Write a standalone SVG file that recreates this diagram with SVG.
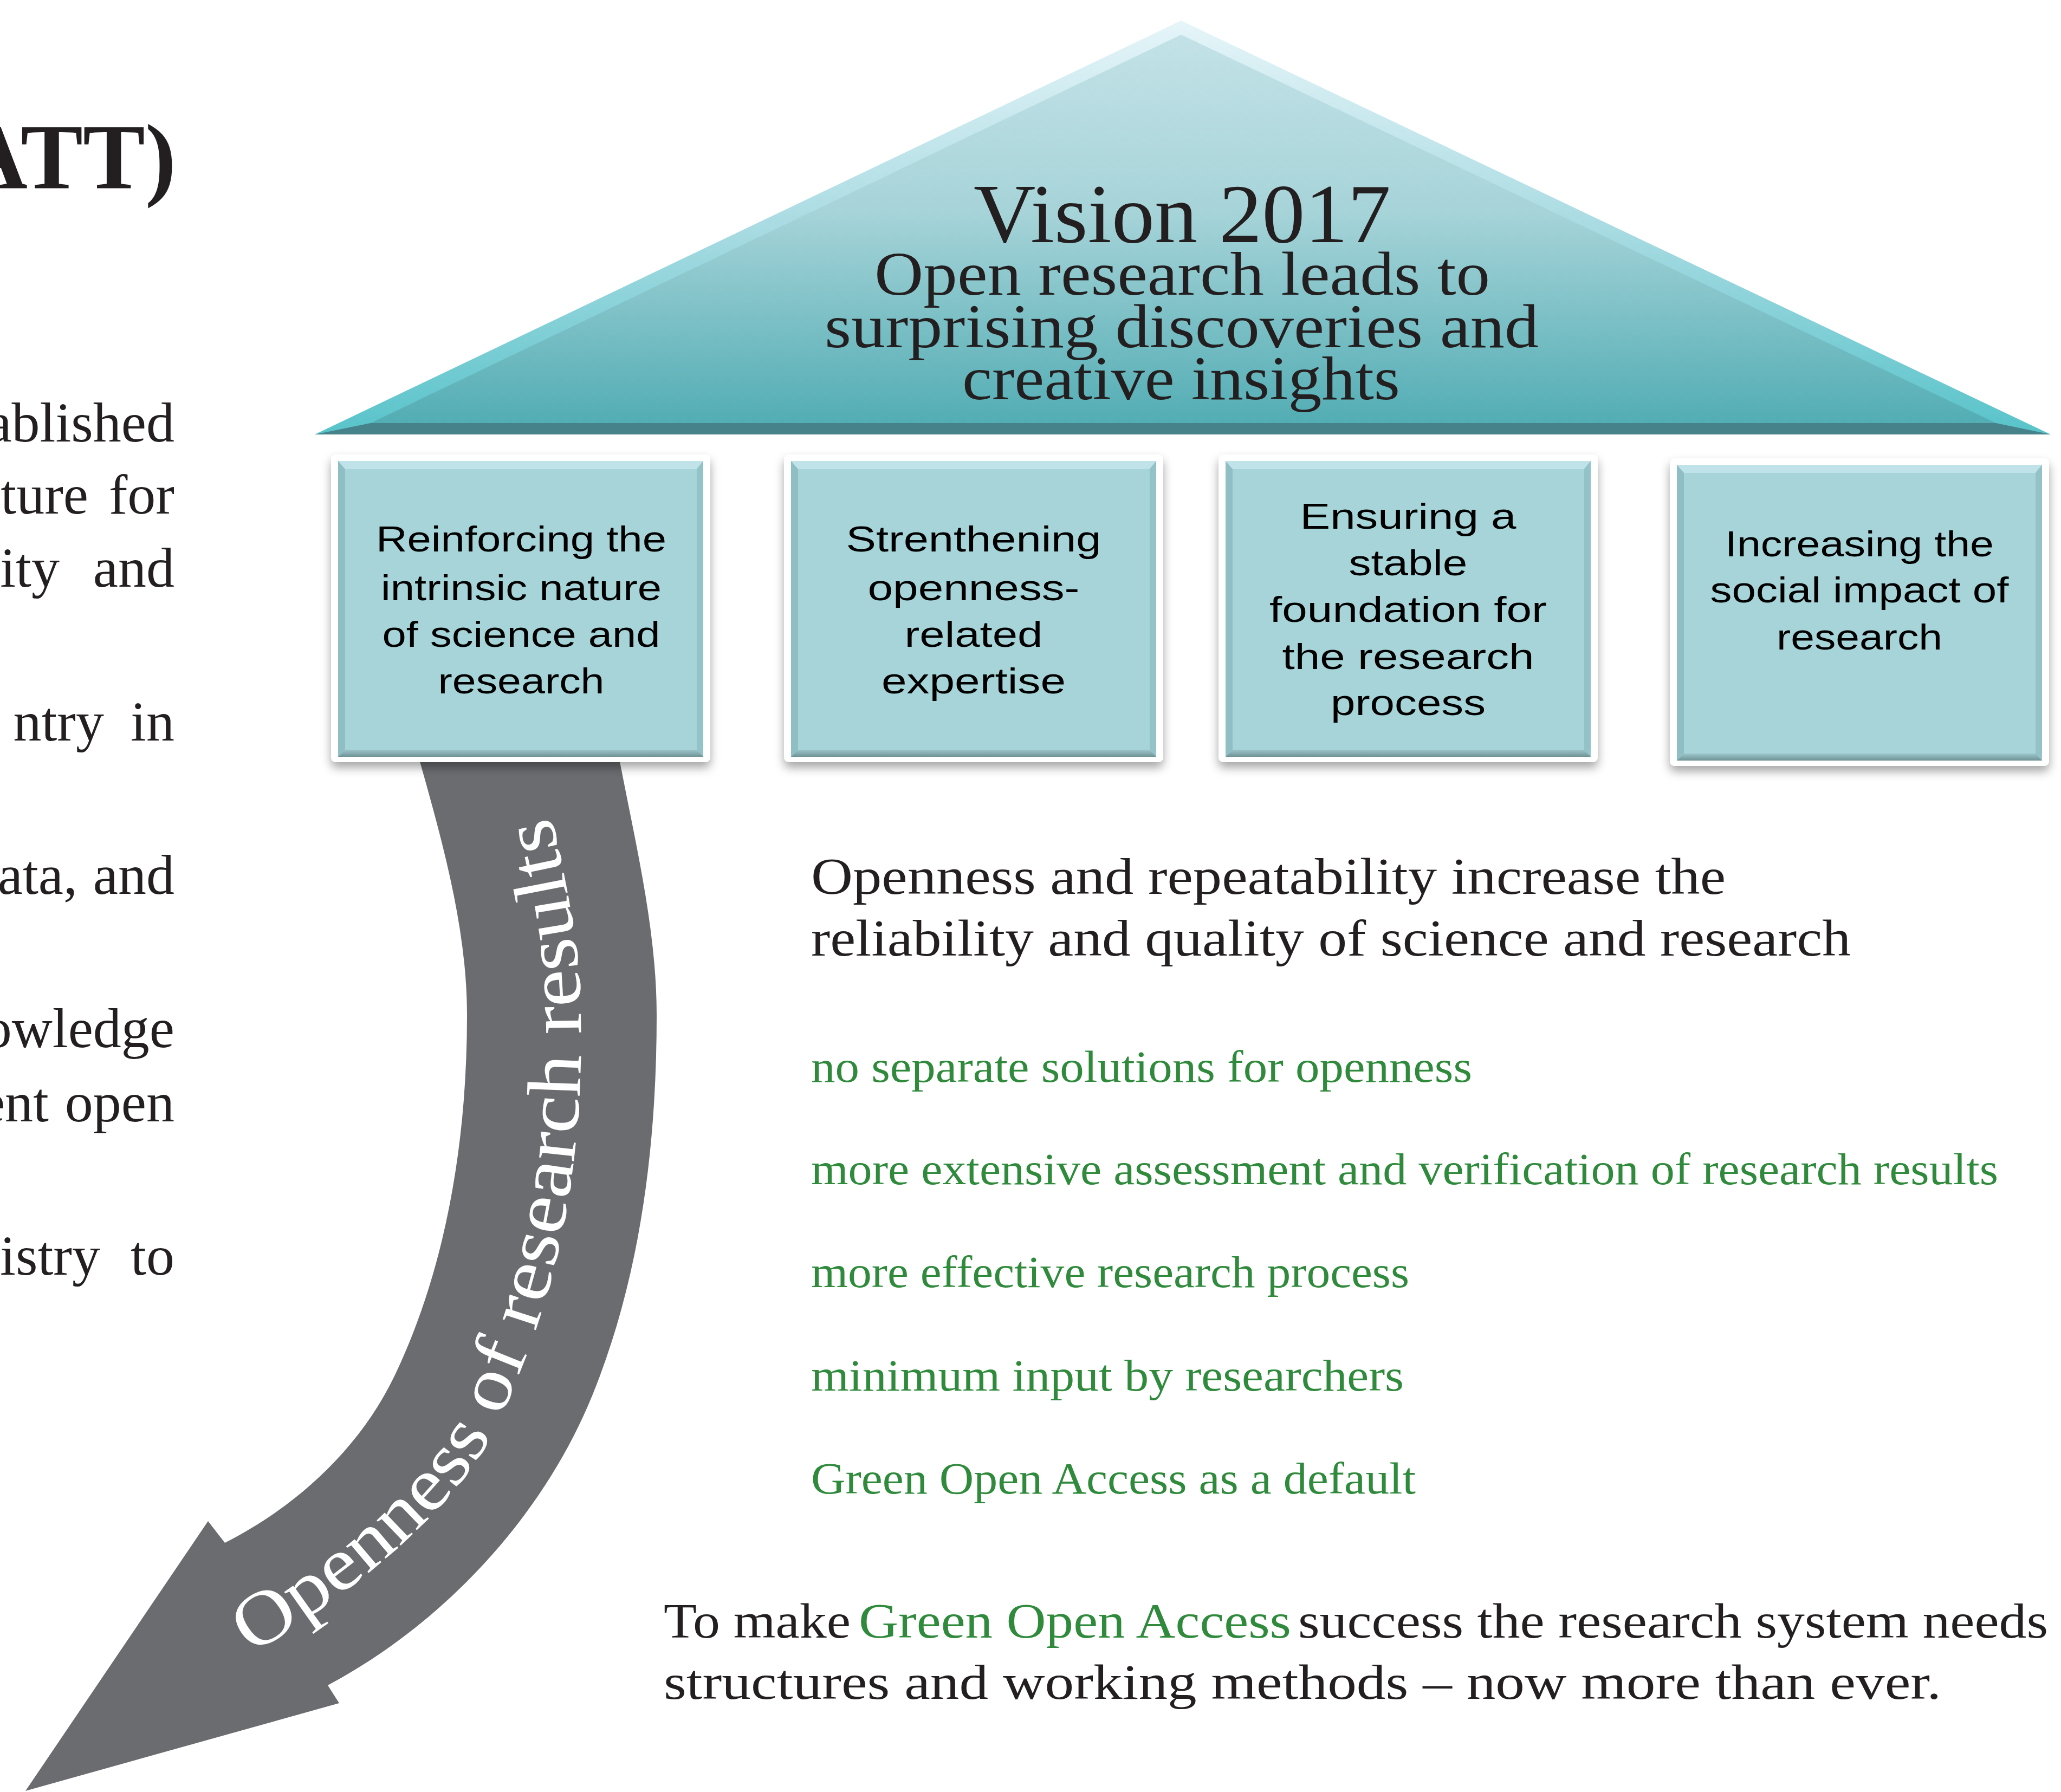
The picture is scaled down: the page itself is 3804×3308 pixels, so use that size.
<svg xmlns="http://www.w3.org/2000/svg" width="3804" height="3308" viewBox="0 0 3804 3308">
<style>
.serif{font-family:"Liberation Serif","Times New Roman",serif;}
.sans{font-family:"Liberation Sans",Arial,sans-serif;}
.bt{font-size:67px;text-anchor:middle;fill:#000;}
.tri{font-size:115px;text-anchor:middle;fill:#231f20;}
.left{font-size:104px;text-anchor:end;fill:#231f20;}
.body{font-size:96px;fill:#231f20;}
.green{font-size:82px;fill:#2f8a3c;}
.bottom{font-size:92px;fill:#231f20;}
.arrowtxt{font-size:140px;fill:#ffffff;}
</style>
<defs>
<linearGradient id="triOuter" x1="0" y1="38" x2="0" y2="802" gradientUnits="userSpaceOnUse">
<stop offset="0" stop-color="#e6f5f9"/>
<stop offset="0.5" stop-color="#a9dbe2"/>
<stop offset="1" stop-color="#58c3ca"/>
</linearGradient>
<linearGradient id="triInner" x1="0" y1="62" x2="0" y2="781" gradientUnits="userSpaceOnUse">
<stop offset="0" stop-color="#c3e2e7"/>
<stop offset="0.45" stop-color="#a7d4d9"/>
<stop offset="1" stop-color="#53adb4"/>
</linearGradient>
<linearGradient id="botBevel" x1="0" y1="0" x2="0" y2="1">
<stop offset="0" stop-color="#9cc6ca"/>
<stop offset="1" stop-color="#6f9397"/>
</linearGradient>
<filter id="shadow" x="-10%" y="-10%" width="120%" height="125%">
<feDropShadow dx="0" dy="10" stdDeviation="9" flood-color="#000" flood-opacity="0.35"/>
</filter>
<g id="boxshape">
<rect x="0" y="0" width="700" height="568" rx="9" fill="#ffffff" filter="url(#shadow)"/>
<rect x="13" y="12" width="674" height="546" fill="#a6d4d8"/>
<polygon points="13,12 687,12 674,27 26,27" fill="#bfe3e9"/>
<polygon points="13,12 26,27 26,545 13,558" fill="#8fbfc4"/>
<polygon points="687,12 687,558 675,545 675,27" fill="#93c3c8"/>
<polygon points="13,558 26,545 675,545 687,558" fill="url(#botBevel)"/>
</g>
</defs>
<rect x="0" y="0" width="3804" height="3308" fill="#ffffff"/>

<g id="left-text" class="serif">
<text x="325" y="348" style="font-size:172px;font-weight:bold;text-anchor:end;fill:#231f20">ATT)</text>
<text class="left" x="322" y="815">ablished</text>
<text class="left" x="163" y="948">ture</text>
<text class="left" x="322" y="948">for</text>
<text class="left" x="110" y="1083">lity</text>
<text class="left" x="322" y="1083">and</text>
<text class="left" x="192" y="1367">ntry</text>
<text class="left" x="322" y="1367">in</text>
<text class="left" x="143" y="1650">ata,</text>
<text class="left" x="322" y="1650">and</text>
<text class="left" x="322" y="1933">owledge</text>
<text class="left" x="90" y="2070">ent</text>
<text class="left" x="322" y="2070">open</text>
<text class="left" x="185" y="2353">istry</text>
<text class="left" x="322" y="2353">to</text>
</g>

<g id="connectors">
<path id="openness-arrow" d="M768,1380 L775,1406 C819,1562 862,1718 862,1874 C862,2099 826,2333 730,2536 C666,2672 549,2780 415,2848 L384,2808 L47,3306 L626,3144 L605,3111 C819,2997 1003,2799 1094,2574 C1183,2354 1212,2111 1212,1874 C1212,1718 1174,1562 1144,1406 L1139,1380 Z" fill="#6b6c70"/>
<path id="arrowBase" d="M456,3060 C680,2920 880,2760 944,2569 C1041,2354 1077,2110 1072,1874 C1072,1709 1023,1542 990,1380" fill="none"/>
<text class="serif arrowtxt"><textPath href="#arrowBase" startOffset="10" textLength="1780" lengthAdjust="spacingAndGlyphs">Openness of research results</textPath></text>
</g>

<g id="vision-roof">
<polygon points="2180,38 3785,802 581,802" fill="url(#triOuter)"/>
<polygon points="2180,64 3684,781 684,781" fill="url(#triInner)"/>
<polygon points="581,802 684,781 3684,781 3785,802" fill="#45828a"/>
<g class="serif">
<text class="tri" x="2182" y="447" style="font-size:155px" textLength="770" lengthAdjust="spacingAndGlyphs">Vision 2017</text>
<text class="tri" x="2182" y="544" textLength="1136" lengthAdjust="spacingAndGlyphs">Open research leads to</text>
<text class="tri" x="2181" y="641" textLength="1318" lengthAdjust="spacingAndGlyphs">surprising discoveries and</text>
<text class="tri" x="2180" y="737" textLength="808" lengthAdjust="spacingAndGlyphs">creative insights</text>
</g>
</g>

<g id="box1">
<use href="#boxshape" x="611" y="839"/>
<g class="sans">
<text class="bt" x="962" y="1018" textLength="536" lengthAdjust="spacingAndGlyphs">Reinforcing the</text>
<text class="bt" x="962" y="1108" textLength="518" lengthAdjust="spacingAndGlyphs">intrinsic nature</text>
<text class="bt" x="962" y="1194" textLength="513" lengthAdjust="spacingAndGlyphs">of science and</text>
<text class="bt" x="962" y="1280" textLength="307" lengthAdjust="spacingAndGlyphs">research</text>
</g>
</g>

<g id="box2">
<use href="#boxshape" x="1447" y="839"/>
<g class="sans">
<text class="bt" x="1797" y="1018" textLength="471" lengthAdjust="spacingAndGlyphs">Strenthening</text>
<text class="bt" x="1797" y="1108" textLength="391" lengthAdjust="spacingAndGlyphs">openness-</text>
<text class="bt" x="1797" y="1194" textLength="255" lengthAdjust="spacingAndGlyphs">related</text>
<text class="bt" x="1797" y="1280" textLength="340" lengthAdjust="spacingAndGlyphs">expertise</text>
</g>
</g>

<g id="box3">
<use href="#boxshape" x="2249" y="839"/>
<g class="sans">
<text class="bt" x="2599" y="976" textLength="399" lengthAdjust="spacingAndGlyphs">Ensuring a</text>
<text class="bt" x="2599" y="1062" textLength="219" lengthAdjust="spacingAndGlyphs">stable</text>
<text class="bt" x="2599" y="1148" textLength="512" lengthAdjust="spacingAndGlyphs">foundation for</text>
<text class="bt" x="2599" y="1235" textLength="465" lengthAdjust="spacingAndGlyphs">the research</text>
<text class="bt" x="2599" y="1320" textLength="286" lengthAdjust="spacingAndGlyphs">process</text>
</g>
</g>

<g id="box4">
<use href="#boxshape" x="3082" y="846"/>
<g class="sans">
<text class="bt" x="3432" y="1027" textLength="496" lengthAdjust="spacingAndGlyphs">Increasing the</text>
<text class="bt" x="3432" y="1112" textLength="551" lengthAdjust="spacingAndGlyphs">social impact of</text>
<text class="bt" x="3432" y="1199" textLength="306" lengthAdjust="spacingAndGlyphs">research</text>
</g>
</g>

<g id="statement" class="serif">
<text class="body" x="1497" y="1650" textLength="1688" lengthAdjust="spacingAndGlyphs">Openness and repeatability increase the</text>
<text class="body" x="1497" y="1764" textLength="1919" lengthAdjust="spacingAndGlyphs">reliability and quality of science and research</text>
</g>

<g id="green-list" class="serif">
<text class="green" x="1497" y="1997" textLength="1220" lengthAdjust="spacingAndGlyphs">no separate solutions for openness</text>
<text class="green" x="1497" y="2186" textLength="2191" lengthAdjust="spacingAndGlyphs">more extensive assessment and verification of research results</text>
<text class="green" x="1497" y="2376" textLength="1104" lengthAdjust="spacingAndGlyphs">more effective research process</text>
<text class="green" x="1497" y="2567" textLength="1094" lengthAdjust="spacingAndGlyphs">minimum input by researchers</text>
<text class="green" x="1497" y="2757" textLength="1116" lengthAdjust="spacingAndGlyphs">Green Open Access as a default</text>
</g>

<g id="conclusion" class="serif">
<text class="bottom" x="1225" y="3023" textLength="345" lengthAdjust="spacingAndGlyphs">To make</text>
<text class="bottom" x="1585" y="3023" style="fill:#2f8a3c" textLength="798" lengthAdjust="spacingAndGlyphs">Green Open Access</text>
<text class="bottom" x="2396" y="3023" textLength="1384" lengthAdjust="spacingAndGlyphs">success the research system needs</text>
<text class="bottom" x="1225" y="3136" textLength="2358" lengthAdjust="spacingAndGlyphs">structures and working methods – now more than ever.</text>
</g>
</svg>
